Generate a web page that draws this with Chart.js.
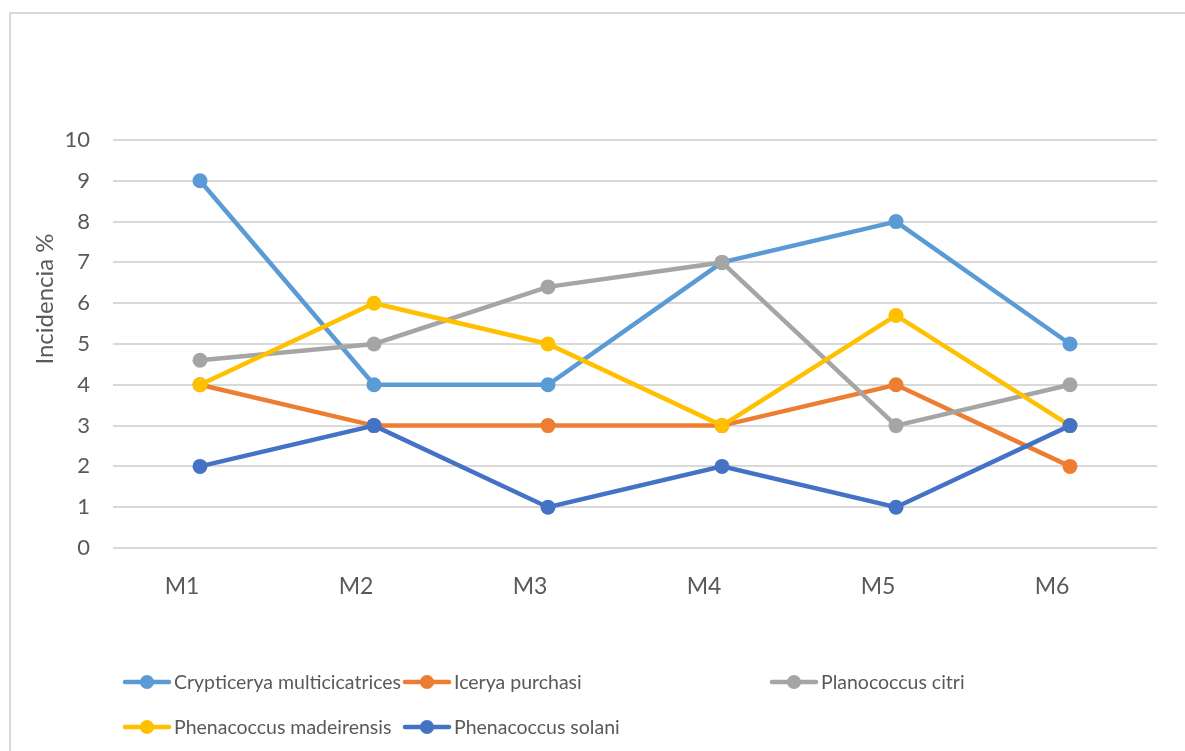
<!DOCTYPE html>
<html>
<head>
    <meta charset="UTF-8">
    <title>Incidencia</title>
    <style>
        body {
            margin: 0;
            background-color: #fff;
            overflow: hidden;
        }

        .frame {
            position: absolute;
            left: 9px;
            top: 12px;
            width: 1300px;
            height: 900px;
            border-left: 2px solid #d9d9d9;
            border-top: 2px solid #d9d9d9;
        }

        #myChart {
            position: absolute;
            left: 0;
            top: 0;
        }
    </style>
</head>
<body>
    <div class="frame"></div>
    <canvas id="myChart" width="1185" height="751"></canvas>
    <script src="https://cdn.jsdelivr.net/npm/chart.js@4"></script>
    <script>
        // Months and incidence per species
        const months = ['M1', 'M2', 'M3', 'M4', 'M5', 'M6'];
        const crypticerya = [9, 4, 4, 7, 8, 5];
        const icerya = [4, 3, 3, 3, 4, 2];
        const planococcus = [4.6, 5, 6.4, 7, 3, 4];
        const madeirensis = [4, 6, 5, 3, 5.7, 3];
        const solani = [2, 3, 1, 2, 1, 3];

        const seriesNames = [
            'Crypticerya multicicatrices',
            'Icerya purchasi',
            'Planococcus citri',
            'Phenacoccus madeirensis',
            'Phenacoccus solani'
        ];
        const seriesData = [crypticerya, icerya, planococcus, madeirensis, solani];
        const seriesColors = ['#5B9BD5', '#ED7D31', '#A5A5A5', '#FFC000', '#4472C4'];

        const yTicks = [0, 1, 2, 3, 4, 5, 6, 7, 8, 9, 10];
        const yTitle = 'Incidencia %';

        const textColor = '#595959';
        const fontFamily = 'Lato, "Open Sans", sans-serif';

        // y axis title, placed by hand
        const axisTitle = {
            id: 'axisTitle',
            afterDraw(chart) {
                const ctx = chart.ctx;
                ctx.save();
                ctx.translate(45, 299);
                ctx.rotate(-Math.PI / 2);
                ctx.fillStyle = textColor;
                ctx.font = '24px ' + fontFamily;
                ctx.textAlign = 'center';
                ctx.textBaseline = 'middle';
                ctx.fillText(yTitle, 0, 0);
                ctx.restore();
            }
        };

        // legend in fixed columns, two rows
        const gridLegend = {
            id: 'gridLegend',
            afterDraw(chart) {
                const ctx = chart.ctx;
                const cols = [123, 403, 770];
                const rows = [682, 727];
                ctx.save();
                ctx.font = '19.5px ' + fontFamily;
                ctx.textBaseline = 'middle';
                chart.data.datasets.forEach((ds, i) => {
                    const x = cols[i % 3];
                    const y = rows[Math.floor(i / 3)];
                    ctx.strokeStyle = ds.borderColor;
                    ctx.lineWidth = 4.5;
                    ctx.lineCap = 'round';
                    ctx.beginPath();
                    ctx.moveTo(x + 2, y);
                    ctx.lineTo(x + 46, y);
                    ctx.stroke();
                    ctx.fillStyle = ds.borderColor;
                    ctx.beginPath();
                    ctx.arc(x + 24, y, 7, 0, Math.PI * 2);
                    ctx.fill();
                    ctx.fillStyle = textColor;
                    ctx.fillText(ds.label, x + 51, y + 1);
                });
                ctx.restore();
            }
        };

        const datasets = seriesNames.map((name, i) => ({
            label: name,
            data: seriesData[i],
            borderColor: seriesColors[i],
            backgroundColor: seriesColors[i],
            pointBackgroundColor: seriesColors[i],
            pointBorderWidth: 0,
            pointRadius: 7.5,
            borderWidth: 4.5,
            tension: 0,
            order: seriesNames.length - i
        }));

        const ctx = document.getElementById('myChart').getContext('2d');
        const myChart = new Chart(ctx, {
            type: 'line',
            data: {
                labels: months,
                datasets: datasets
            },
            options: {
                responsive: false,
                animation: false,
                layout: {
                    padding: { top: 140, right: 28, left: 0, bottom: 0 }
                },
                plugins: {
                    legend: { display: false },
                    tooltip: { enabled: false }
                },
                scales: {
                    x: {
                        offset: true,
                        grid: { display: false, drawTicks: false },
                        border: { display: false },
                        ticks: {
                            color: textColor,
                            font: { family: fontFamily, size: 23 },
                            padding: 25,
                            labelOffset: -18
                        },
                        afterFit: s => { s.height = 203; }
                    },
                    y: {
                        min: 0,
                        max: 10,
                        afterBuildTicks: s => { s.ticks = yTicks.map(v => ({ value: v })); },
                        grid: { color: '#d9d9d9', lineWidth: 2, drawTicks: false },
                        border: { display: false },
                        ticks: {
                            color: textColor,
                            font: { family: fontFamily, size: 22 },
                            padding: 23
                        },
                        afterFit: s => { s.width = 113; }
                    }
                }
            },
            plugins: [axisTitle, gridLegend]
        });
    </script>
</body>
</html>
